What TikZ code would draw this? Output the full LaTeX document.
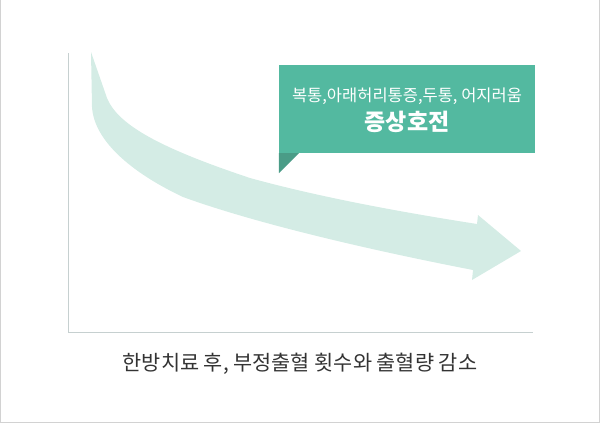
\documentclass[tikz,border=0pt]{standalone}
\usepackage{fontspec}
\setmainfont{Noto Sans CJK KR}
\usepackage{tikz}

\definecolor{boxgreen}{RGB}{83,185,160}
\definecolor{tailgreen}{RGB}{74,156,135}
\definecolor{arrowmint}{RGB}{212,236,229}
\definecolor{axisgray}{RGB}{198,208,208}
\definecolor{framegray}{RGB}{210,210,210}
\definecolor{captiongray}{RGB}{51,51,51}

\tikzset{
  symptombox/.style={fill=boxgreen, minimum width=256pt, minimum height=88pt, inner sep=0pt},
  boxtext/.style={text=white, inner sep=0pt},
  axisline/.style={draw=axisgray, line width=1pt}
}

\begin{document}
\begin{tikzpicture}[x=1pt, y=-1pt]
            \useasboundingbox (0,0) rectangle (600,424);
            \draw [framegray, line width=1pt] (0.5,0) -- (0.5,422.5) -- (599.5,422.5) -- (599.5,0);

            \coordinate (top) at (68,53);
            \coordinate (origin) at (68,332);
            \coordinate (right) at (533,332);
            \draw [axisline] (top) -- (origin) -- (right);

            \fill [arrowmint] (91,52) -- (107,98)
                .. controls (118,125) and (160,148) .. (250,178)
                .. controls (330,200) and (420,215) .. (477,224)
                -- (478,215) -- (521,251) -- (472,280) -- (473,270)
                .. controls (380,252) and (260,225) .. (183,197)
                .. controls (130,172) and (94,140) .. (92,107) -- cycle;

            \node (box) at (407,109) [symptombox] {};
            \fill [tailgreen] (box.south west) -- ++(20,0) -- ++(-20,20) -- cycle;
            \node (line1) at (407,96) [boxtext, font=\fontsize{16.5}{19}\selectfont] {복통,아래허리통증,두통, 어지러움};
            \node (line2) at (407,122) [boxtext, font=\fontsize{23}{26}\selectfont\bfseries] {증상호전};

            \node (caption) at (300,364) [text=captiongray, font=\fontsize{20.8}{24}\selectfont] {한방치료 후, 부정출혈 횟수와 출혈량 감소};
        \end{tikzpicture}
\end{document}
